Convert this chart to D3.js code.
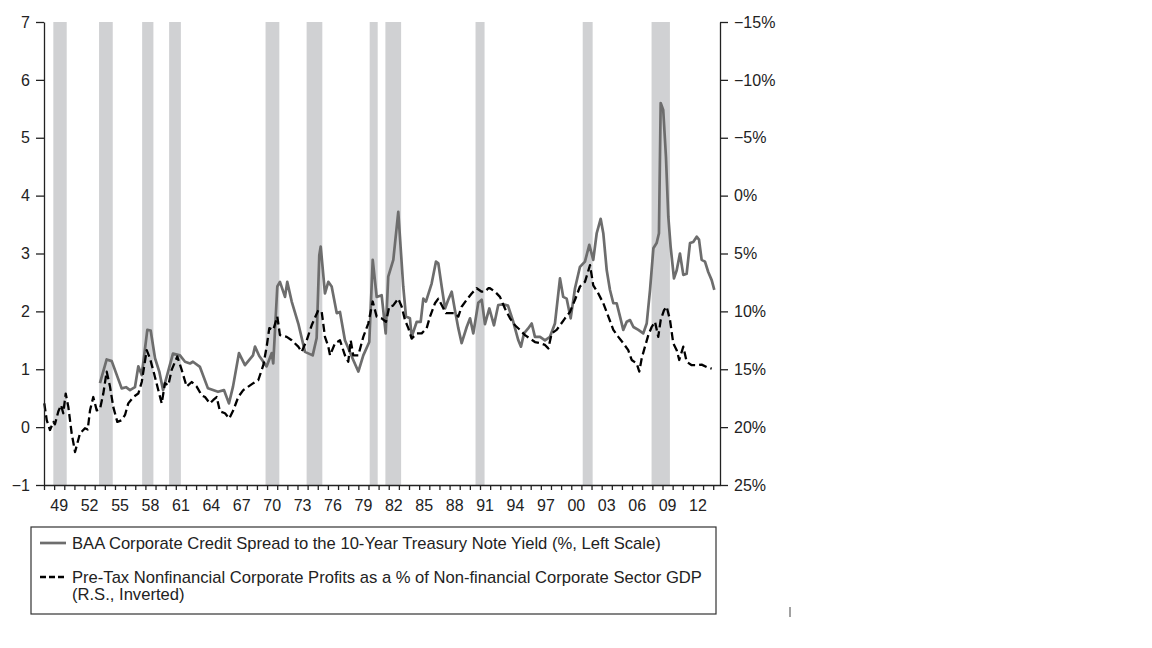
<!DOCTYPE html>
<html>
<head>
<meta charset="utf-8">
<script src="https://cdn.jsdelivr.net/npm/d3@7"></script>
<style>
  html, body { margin: 0; padding: 0; background: #fff; }
  svg { display: block; }
  text { font-family: "Liberation Sans", Arial, Helvetica, sans-serif; fill: #222; }
</style>
</head>
<body>
<svg id="chart" width="1152" height="648"></svg>
<script>
// ---------------- DATA ----------------
const recessionStarts = [1948.92, 1953.43, 1957.68, 1960.34, 1969.85, 1973.90, 1980.12, 1981.67, 1990.56, 2001.13, 2007.92];
const recessionEnds   = [1950.24, 1954.78, 1958.79, 1961.50, 1971.21, 1975.45, 1980.91, 1983.22, 1991.45, 2002.11, 2009.73];

// BAA corporate credit spread to 10-year Treasury (%, left scale)
const spreadYears = [1953.52,1954.18,1954.68,1955.66,1956.09,1956.48,1956.97,1957.30,1957.64,1958.19,1958.52,1958.95,1959.37,1959.74,1960.72,1961.41,1961.91,1962.40,1962.69,1963.38,1964.17,1965.16,1965.75,1966.24,1966.64,1967.23,1967.82,1968.61,1968.81,1969.23,1969.96,1970.46,1970.61,1971.01,1971.27,1971.77,1971.99,1972.43,1973.08,1973.74,1974.50,1974.89,1975.15,1975.29,1975.71,1976.04,1976.37,1976.87,1977.19,1977.68,1978.50,1979.00,1979.49,1980.08,1980.42,1980.81,1981.30,1981.70,1981.95,1982.45,1982.94,1983.43,1983.70,1984.09,1984.26,1984.76,1985.15,1985.41,1985.67,1986.23,1986.66,1986.89,1987.22,1987.55,1987.87,1988.21,1988.53,1988.86,1989.19,1989.69,1990.02,1990.34,1990.83,1991.17,1991.49,1991.92,1992.38,1992.80,1993.30,1993.76,1994.28,1994.78,1995.04,1995.34,1995.73,1996.10,1996.42,1996.92,1997.41,1997.90,1998.39,1998.89,1999.21,1999.55,1999.94,2000.37,2000.86,2001.35,2001.78,2002.17,2002.51,2002.90,2003.16,2003.50,2003.82,2004.15,2004.48,2004.81,2005.13,2005.47,2005.80,2006.13,2006.62,2007.10,2007.44,2007.77,2008.10,2008.42,2008.65,2008.82,2009.07,2009.34,2009.57,2009.80,2010.13,2010.40,2010.72,2011.05,2011.38,2011.71,2012.03,2012.37,2012.60,2012.86,2013.19,2013.51,2013.85,2014.11];
const spreadValues = [0.76,1.17,1.14,0.67,0.69,0.64,0.69,1.05,0.90,1.68,1.67,1.19,0.96,0.64,1.27,1.24,1.13,1.10,1.13,1.04,0.67,0.61,0.64,0.41,0.70,1.28,1.07,1.24,1.39,1.23,1.05,1.28,1.10,2.43,2.51,2.25,2.51,2.17,1.79,1.30,1.24,1.54,2.97,3.12,2.31,2.51,2.43,1.97,1.99,1.50,1.16,0.96,1.24,1.47,2.89,2.25,2.28,1.62,2.60,2.89,3.72,2.43,1.91,1.88,1.56,1.82,1.82,2.22,2.17,2.48,2.86,2.83,2.43,2.05,2.20,2.34,2.02,1.71,1.45,1.73,1.88,1.62,2.15,2.20,1.78,2.05,1.76,2.11,2.12,2.10,1.82,1.50,1.39,1.62,1.70,1.79,1.56,1.56,1.50,1.56,1.79,2.57,2.25,2.22,1.88,2.40,2.77,2.86,3.15,2.89,3.35,3.60,3.35,2.71,2.37,2.14,2.14,1.91,1.68,1.82,1.85,1.73,1.68,1.62,1.79,2.37,3.09,3.18,3.35,5.60,5.48,4.67,3.64,3.12,2.57,2.71,3.00,2.63,2.65,3.18,3.20,3.29,3.24,2.89,2.86,2.68,2.54,2.37];

// Pre-tax nonfinancial corporate profits as % of nonfinancial corporate GDP (right scale, inverted)
const profitYears = [1948.03,1948.27,1948.59,1948.92,1949.08,1949.41,1949.68,1949.90,1950.14,1950.40,1950.73,1951.06,1951.55,1952.04,1952.31,1952.54,1952.86,1953.20,1953.52,1953.85,1954.18,1954.51,1954.83,1955.23,1955.66,1955.99,1956.31,1956.81,1957.30,1957.64,1958.13,1958.45,1958.85,1959.27,1959.61,1959.93,1960.26,1960.59,1961.15,1961.58,1962.07,1962.57,1963.06,1963.55,1963.88,1964.37,1964.70,1965.03,1965.36,1965.85,1966.27,1966.67,1967.16,1967.65,1968.15,1968.64,1969.13,1969.63,1969.96,1970.22,1970.61,1971.01,1971.27,1971.94,1972.43,1973.08,1973.41,1973.91,1974.40,1975.05,1975.39,1975.71,1976.04,1976.21,1976.70,1977.19,1977.68,1978.01,1978.25,1978.50,1979.00,1979.49,1979.98,1980.42,1980.81,1981.30,1981.73,1982.05,1982.42,1982.94,1983.28,1983.60,1983.93,1984.26,1984.76,1985.25,1985.74,1986.07,1986.56,1986.89,1987.22,1987.64,1988.14,1988.53,1988.86,1989.19,1989.69,1990.18,1990.67,1991.17,1991.49,1991.82,1991.98,1992.48,1992.97,1993.46,1993.96,1994.45,1994.94,1995.44,1995.93,1996.42,1996.92,1997.41,1997.74,1998.07,1998.56,1998.89,1999.38,1999.87,2000.37,2000.86,2001.35,2001.85,2002.17,2002.67,2003.16,2003.66,2004.15,2004.64,2005.13,2005.62,2005.96,2006.45,2006.71,2006.95,2007.27,2007.60,2007.93,2008.26,2008.58,2008.82,2009.15,2009.41,2009.74,2010.06,2010.40,2010.65,2011.05,2011.38,2011.88,2012.37,2012.86,2013.35,2013.85];
const profitValues = [17.95,19.4,20.25,19.55,19.75,18.65,18.1,18.8,17.1,18.25,20.55,22.15,20.55,20.1,20.2,18.55,17.4,18.55,18.45,17.1,15.2,16.5,18.25,19.55,19.4,18.95,17.95,17.4,17.1,16.1,13.35,14.05,15.35,16.8,17.95,16.2,16.4,15.05,13.9,15.05,16.5,16.1,16.5,17.25,17.4,17.95,17.65,17.4,18.65,18.8,19.25,18.55,17.4,16.8,16.5,16.2,15.95,14.65,13.05,11.45,11.6,10.45,12.05,12.2,12.5,13.05,13.5,12.5,11.2,9.9,10.05,12.2,13.05,13.8,12.75,12.5,13.8,14.35,12.5,13.8,13.8,12.2,11.05,9.15,10.45,10.6,10.9,9.6,9.5,8.9,9.6,10.75,11.45,12.35,11.9,11.9,11.45,10.45,9.3,8.9,9.45,10.15,10.15,10.15,10.45,9.6,9.0,8.45,8.0,8.3,8.3,8.0,8.0,8.3,8.75,9.75,10.6,11.2,11.6,12.05,12.35,12.65,12.75,12.9,13.2,11.9,11.6,11.2,10.6,10.05,9.0,7.85,7.45,6.0,7.75,8.45,9.3,10.45,11.6,12.2,12.75,13.35,14.2,14.5,15.2,14.05,13.05,12.05,11.35,10.9,12.2,10.75,9.9,9.6,10.75,12.75,13.35,14.2,13.05,14.35,14.65,14.65,14.6,14.8,14.95];

const leftTicks  = [-1, 0, 1, 2, 3, 4, 5, 6, 7];
const rightTicks = [-15, -10, -5, 0, 5, 10, 15, 20, 25];
const yearLabels = [1949,1952,1955,1958,1961,1964,1967,1970,1973,1976,1979,1982,1985,1988,1991,1994,1997,2000,2003,2006,2009,2012];
const legendLabels = [
  "BAA Corporate Credit Spread to the 10-Year Treasury Note Yield (%, Left Scale)",
  "Pre-Tax Nonfinancial Corporate Profits as a % of Non-financial Corporate Sector GDP",
  "(R.S., Inverted)"
];

// ---------------- CHART ----------------
const svg = d3.select("#chart");
const L = 44, R = 720, T = 22, B = 485;
const FONT = '"Liberation Sans", Arial, Helvetica, sans-serif';

const x  = d3.scaleLinear().domain([1948, 2014.67]).range([L, R]);
const yL = d3.scaleLinear().domain([-1, 7]).range([B, T]);
const yR = d3.scaleLinear().domain([-15, 25]).range([T, B]);

const minus = v => (v < 0 ? "\u2212" : "") + Math.abs(v);

// recession bands
svg.append("g").selectAll("rect")
  .data(recessionStarts.map((s, i) => [s, recessionEnds[i]]))
  .join("rect")
  .attr("x", d => x(d[0]))
  .attr("width", d => x(d[1]) - x(d[0]))
  .attr("y", T)
  .attr("height", B - T)
  .attr("fill", "#d0d1d3");

// series
const spreadData = spreadYears.map((t, i) => [t, spreadValues[i]]);
const profitData = profitYears.map((t, i) => [t, profitValues[i]]);

svg.append("path")
  .datum(spreadData)
  .attr("fill", "none")
  .attr("stroke", "#6d6d6d")
  .attr("stroke-width", 2.7)
  .attr("stroke-linejoin", "round")
  .attr("d", d3.line().x(d => x(d[0])).y(d => yL(d[1])));

svg.append("path")
  .datum(profitData)
  .attr("fill", "none")
  .attr("stroke", "#000")
  .attr("stroke-width", 2.3)
  .attr("stroke-dasharray", "8,4")
  .attr("stroke-linejoin", "round")
  .attr("d", d3.line().x(d => x(d[0])).y(d => yR(d[1])));

// axes
function styleAxis(g) {
  g.selectAll("path.domain").attr("stroke", "#222").attr("stroke-width", 1.3);
  g.selectAll(".tick line").attr("stroke", "#222").attr("stroke-width", 1.3);
  g.selectAll(".tick text").attr("font-size", 16).attr("fill", "#222").attr("font-family", FONT);
}

svg.append("g")
  .attr("transform", `translate(${L},0)`)
  .call(d3.axisLeft(yL).tickValues(leftTicks).tickSize(8).tickPadding(6).tickSizeOuter(0).tickFormat(minus))
  .call(styleAxis);

svg.append("g")
  .attr("transform", `translate(${R},0)`)
  .call(d3.axisRight(yR).tickValues(rightTicks).tickSize(8).tickPadding(6).tickSizeOuter(0).tickFormat(v => minus(v) + "%"))
  .call(styleAxis);

svg.append("g")
  .attr("transform", `translate(0,${B})`)
  .call(d3.axisBottom(x).tickValues(d3.range(1948, 2015)).tickSize(5).tickSizeOuter(0).tickFormat(""))
  .call(styleAxis);

svg.append("g").selectAll("text")
  .data(yearLabels)
  .join("text")
  .attr("x", d => x(d + 0.5))
  .attr("y", 511)
  .attr("text-anchor", "middle")
  .attr("font-size", 16)
  .text(d => String(d % 100).padStart(2, "0"));

// legend
const lg = svg.append("g");
lg.append("rect")
  .attr("x", 31).attr("y", 527).attr("width", 685).attr("height", 87)
  .attr("fill", "#fff").attr("stroke", "#333").attr("stroke-width", 1.2);

lg.append("line").attr("x1", 40).attr("x2", 66).attr("y1", 543).attr("y2", 543)
  .attr("stroke", "#6d6d6d").attr("stroke-width", 2.7);
lg.append("line").attr("x1", 40).attr("x2", 66).attr("y1", 577).attr("y2", 577)
  .attr("stroke", "#000").attr("stroke-width", 2.3).attr("stroke-dasharray", "6,3");

lg.selectAll("text")
  .data(legendLabels)
  .join("text")
  .attr("x", 72)
  .attr("y", (d, i) => [549, 583, 600][i])
  .attr("font-size", 16.6)
  .text(d => d);

// small stray mark at lower right
svg.append("line").attr("x1", 790).attr("x2", 790).attr("y1", 607).attr("y2", 617)
  .attr("stroke", "#444").attr("stroke-width", 1);
</script>
</body>
</html>
